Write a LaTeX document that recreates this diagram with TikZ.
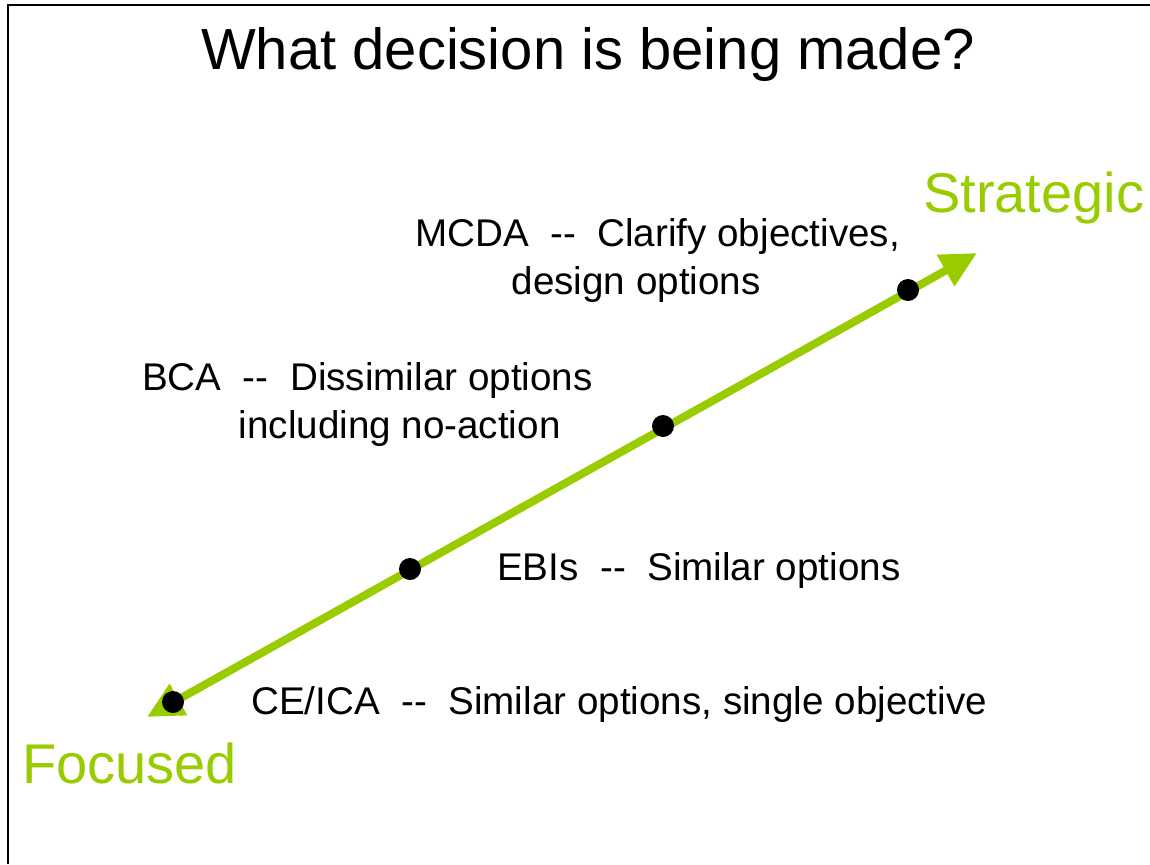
\documentclass[tikz,border=0pt]{standalone}
\usepackage{fontspec}
\setmainfont{Liberation Sans}
\usetikzlibrary{arrows.meta}
\definecolor{leafgreen}{HTML}{99CC00}
\newcommand{\dashsep}{\ \ -{}-\ \ }

\begin{document}
\begin{tikzpicture}[x=1pt,y=-1pt,
  lbl/.style={anchor=base west, inner sep=0pt, align=left,
              font=\fontsize{38.6}{48}\selectfont},
  endlbl/.style={anchor=base west, inner sep=0pt, text=leafgreen,
                 font=\fontsize{56}{60}\selectfont},
  dot/.style={circle, fill=black, inner sep=0pt, minimum size=22pt},
  axis/.style={{Triangle[length=36pt,width=34pt]}-{Triangle[length=36pt,width=34pt]},
               line width=8pt, draw=leafgreen}
]
  \useasboundingbox (0,0) rectangle (1150,864);
  \draw[line width=2pt] (7.5,864) -- (7.5,5.5) -- (1150,5.5);

  \node[anchor=base, inner sep=0pt, font=\fontsize{58}{62}\selectfont] (title) at (588,70)
    {What decision is being made?};

  \coordinate (foc) at (147,717);
  \coordinate (str) at (977,253);
  \draw[axis] (foc) -- (str);

  \node[dot] (ce)   at (173,702) {};
  \node[dot] (ebi)  at (410,569) {};
  \node[dot] (bca)  at (663,426) {};
  \node[dot] (mcda) at (908,290) {};

  \node[endlbl] (strlbl) at (923,212) {Strategic};
  \node[endlbl] (foclbl) at (22,783)  {Focused};

  % multi-line labels sit on the baseline of their last line
  \node[lbl] (mcdalbl) at (415,294) {MCDA\dashsep Clarify objectives,\\\hspace*{2.5em}design options};
  \node[lbl] (bcalbl)  at (142,438) {BCA\dashsep Dissimilar options\\\hspace*{2.5em}including no-action};
  \node[lbl] (ebilbl)  at (497,580) {EBIs\dashsep Similar options};
  \node[lbl] (celbl)   at (251,714) {CE/ICA\dashsep Similar options, single objective};
\end{tikzpicture}
\end{document}
